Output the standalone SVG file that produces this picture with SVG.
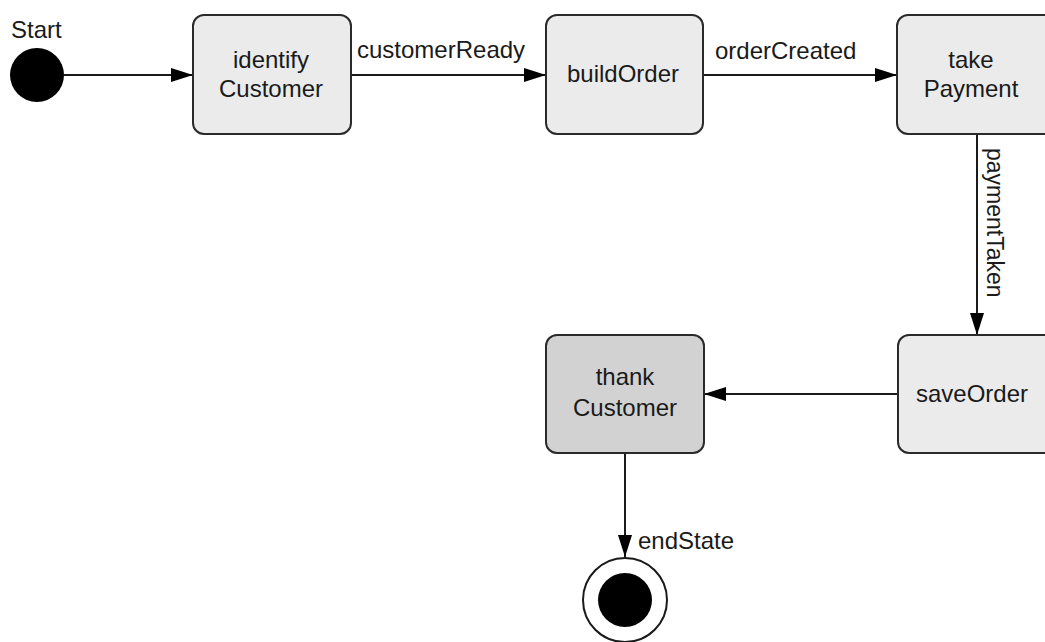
<svg xmlns="http://www.w3.org/2000/svg" width="1045" height="642" viewBox="0 0 1045 642">
<style>
text{font-family:"Liberation Sans",Arial,sans-serif;font-size:24px;fill:#1a1a1a}
.n{text-anchor:middle}
.box{fill:#ebebeb;stroke:#2a2a2a;stroke-width:2}
.dark{fill:#d2d2d2}
.edge{stroke:#1a1a1a;stroke-width:2;fill:none}
</style>
<defs>
<marker id="ah" markerUnits="userSpaceOnUse" markerWidth="22" markerHeight="14" viewBox="0 0 22 14" refX="22" refY="7" orient="auto">
<path d="M0,0 L22,7 L0,14 Z" fill="#000"/>
</marker>
</defs>
<g id="connectors">
<line class="edge" x1="64" y1="75" x2="193" y2="75" marker-end="url(#ah)"/>
<line class="edge" x1="351" y1="75" x2="546" y2="75" marker-end="url(#ah)"/>
<line class="edge" x1="703" y1="75" x2="897" y2="75" marker-end="url(#ah)"/>
<line class="edge" x1="977" y1="134" x2="977" y2="335" marker-end="url(#ah)"/>
<line class="edge" x1="898" y1="394" x2="704" y2="394" marker-end="url(#ah)"/>
<line class="edge" x1="625" y1="453" x2="625" y2="557" marker-end="url(#ah)"/>
<text x="357" y="58">customerReady</text>
<text x="715" y="59">orderCreated</text>
<text transform="translate(987,148) rotate(90)" style="font-size:23px">paymentTaken</text>
<text x="638" y="549">endState</text>
</g>
<g id="start">
<circle cx="37" cy="75" r="27" fill="#000"/>
<text x="11" y="38">Start</text>
</g>
<g id="identifyCustomer">
<rect class="box" x="193" y="15" width="158" height="119" rx="11"/>
<text class="n" x="271" y="68">identify</text>
<text class="n" x="271" y="97">Customer</text>
</g>
<g id="buildOrder">
<rect class="box" x="546" y="15" width="157" height="119" rx="11"/>
<text class="n" x="623" y="82">buildOrder</text>
</g>
<g id="takePayment">
<rect class="box" x="897" y="15" width="160" height="119" rx="11"/>
<text class="n" x="971" y="68">take</text>
<text class="n" x="971" y="97">Payment</text>
</g>
<g id="saveOrder">
<rect class="box" x="898" y="335" width="160" height="118" rx="11"/>
<text class="n" x="972" y="402">saveOrder</text>
</g>
<g id="thankCustomer">
<rect class="box dark" x="546" y="335" width="158" height="118" rx="11"/>
<text class="n" x="625" y="385">thank</text>
<text class="n" x="625" y="416">Customer</text>
</g>
<g id="end">
<circle cx="625" cy="600" r="42" fill="#fff" stroke="#1a1a1a" stroke-width="2"/>
<circle cx="625" cy="600" r="27" fill="#000"/>
</g>
</svg>
